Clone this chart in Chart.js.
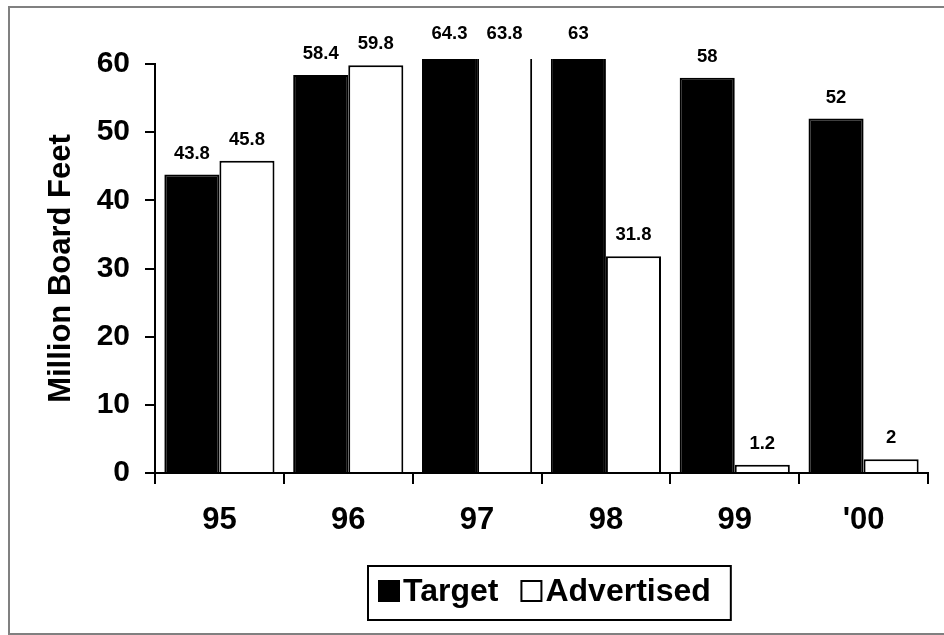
<!DOCTYPE html>
<html>
<head>
<meta charset="utf-8">
<script src="https://cdn.jsdelivr.net/npm/chart.js@4/dist/chart.umd.min.js"></script>
<style>
  html, body { margin: 0; padding: 0; background: #fff; }
  canvas { display: block; }
</style>
</head>
<body>
<canvas id="c" width="944" height="635"></canvas>
<script>
// Timber sale volumes by fiscal year (million board feet)
const years = ['95', '96', '97', '98', '99', "'00"];
const target = [43.8, 58.4, 64.3, 63, 58, 52];
const advertised = [45.8, 59.8, 63.8, 31.8, 1.2, 2];
const yTicks = [0, 10, 20, 30, 40, 50, 60];
const seriesNames = ['Target', 'Advertised'];
const yTitle = 'Million Board Feet';

const FONT = '"Liberation Sans", Arial, Helvetica, sans-serif';

// Page frame: grey rule along the left, top and bottom edges
const framePlugin = {
  id: 'frame',
  beforeDraw(chart) {
    const ctx = chart.ctx;
    ctx.save();
    ctx.fillStyle = '#fff';
    ctx.fillRect(0, 0, chart.width, chart.height);
    ctx.strokeStyle = '#808080';
    ctx.lineWidth = 2;
    ctx.strokeRect(9, 7, chart.width + 20, chart.height - 8);
    ctx.restore();
  }
};

// Value printed above each bar; bars running past the top get their label pinned near the top
const valueLabelPlugin = {
  id: 'valueLabels',
  afterDatasetsDraw(chart) {
    const ctx = chart.ctx;
    const top = chart.chartArea.top;
    ctx.save();
    ctx.font = 'bold 18.5px ' + FONT;
    ctx.fillStyle = '#000';
    ctx.textAlign = 'center';
    ctx.textBaseline = 'middle';
    chart.data.datasets.forEach((ds, di) => {
      const meta = chart.getDatasetMeta(di);
      meta.data.forEach((bar, i) => {
        const y = Math.max(bar.y - 21, top - 30);
        ctx.fillText(String(ds.data[i]), bar.x, y);
      });
    });
    ctx.restore();
  }
};

// Boxed legend below the axis
const boxLegendPlugin = {
  id: 'boxLegend',
  afterDraw(chart) {
    const ctx = chart.ctx;
    const sq = 22, padL = 10, padR = 20, markGap = 3, itemGap = 22;
    const boxH = 54, cx = 549, boxTop = 566;
    ctx.save();
    ctx.font = 'bold 32px ' + FONT;
    const items = chart.data.datasets.map(ds => ({
      text: ds.label, fill: ds.backgroundColor, w: ctx.measureText(ds.label).width
    }));
    let total = padL + padR;
    items.forEach((it, i) => { total += sq + markGap + it.w + (i ? itemGap : 0); });
    const left = Math.round(cx - total / 2);
    ctx.lineWidth = 2;
    ctx.strokeStyle = '#000';
    ctx.strokeRect(left, boxTop, total, boxH);
    const midY = boxTop + boxH / 2 - 2;
    let x = left + padL;
    ctx.textBaseline = 'middle';
    ctx.textAlign = 'left';
    items.forEach((it, i) => {
      if (i) x += itemGap;
      ctx.fillStyle = it.fill;
      ctx.fillRect(x, midY - sq / 2, sq, sq);
      ctx.strokeRect(x + 1, midY - sq / 2 + 1, sq - 2, sq - 2);
      x += sq + markGap;
      ctx.fillStyle = '#000';
      ctx.fillText(it.text, x, midY + 1);
      x += it.w;
    });
    ctx.restore();
  }
};

const barClip = { left: false, right: false, top: 5, bottom: 0 };

new Chart(document.getElementById('c'), {
  type: 'bar',
  data: {
    labels: years,
    datasets: [
      {
        label: seriesNames[0],
        data: target,
        backgroundColor: '#000',
        borderColor: '#000',
        borderWidth: 2,
        clip: barClip
      },
      {
        label: seriesNames[1],
        data: advertised,
        backgroundColor: '#fff',
        borderColor: '#000',
        borderWidth: 2,
        clip: barClip
      }
    ]
  },
  options: {
    responsive: false,
    animation: false,
    devicePixelRatio: 1,
    layout: { padding: { left: 0, top: 64, right: 16, bottom: 0 } },
    datasets: { bar: { categoryPercentage: 0.855, barPercentage: 1 } },
    plugins: {
      legend: { display: false },
      tooltip: { enabled: false }
    },
    scales: {
      x: {
        grid: {
          display: true,
          offset: true,
          drawOnChartArea: false,
          drawTicks: true,
          tickLength: 11,
          color: '#000',
          lineWidth: 2
        },
        border: { display: true, color: '#000', width: 2 },
        ticks: {
          color: '#000',
          font: { family: FONT, size: 31, weight: 'bold' },
          padding: 18,
          maxRotation: 0
        },
        afterFit(scale) { scale.height = 162; }
      },
      y: {
        min: 0,
        max: 60,
        afterBuildTicks(scale) { scale.ticks = yTicks.map(v => ({ value: v })); },
        grid: {
          display: true,
          drawOnChartArea: false,
          drawTicks: true,
          tickLength: 10,
          color: '#000',
          lineWidth: 2
        },
        border: { display: true, color: '#000', width: 2 },
        ticks: {
          color: '#000',
          font: { family: FONT, size: 30, weight: 'bold' },
          padding: 15
        },
        title: {
          display: true,
          text: yTitle,
          color: '#000',
          font: { family: FONT, size: 31, weight: 'bold' },
          padding: { top: 43, bottom: 0 }
        },
        afterFit(scale) { scale.width = 155; }
      }
    }
  },
  plugins: [framePlugin, valueLabelPlugin, boxLegendPlugin]
});
</script>
</body>
</html>
